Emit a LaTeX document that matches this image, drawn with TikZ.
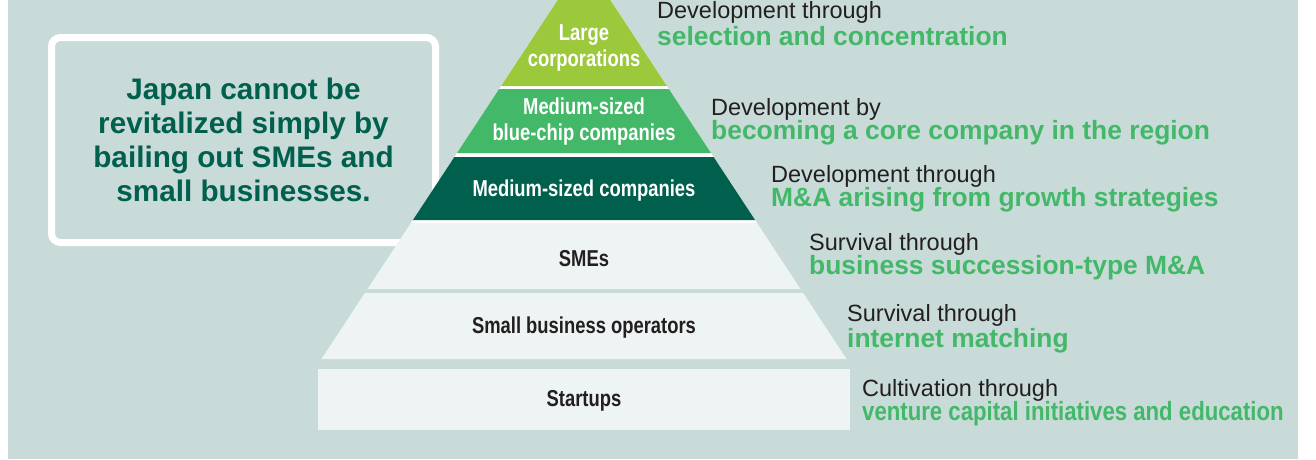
\documentclass[tikz,border=0pt]{standalone}
\usepackage{fontspec}
\setmainfont{Liberation Sans}
\newfontfamily\condfont[FakeStretch=0.8]{Liberation Sans}
\newfontfamily\narrowfont[FakeStretch=0.84]{Liberation Sans}
\usetikzlibrary{positioning}

\definecolor{bgteal}{HTML}{C8DBD9}
\definecolor{lime}{HTML}{9CC93C}
\definecolor{leafgreen}{HTML}{43B868}
\definecolor{pinegreen}{HTML}{00604D}
\definecolor{pale}{HTML}{EEF3F3}
\definecolor{inkdark}{HTML}{231F20}

\tikzset{%
  tier/.style = {font=\condfont\bfseries\fontsize{23}{26}\selectfont, align=center, inner sep=0pt},
  tierlight/.style = {tier, text=white},
  tierdark/.style = {tier, text=inkdark},
  how/.style = {anchor=base west, inner sep=0pt, text=inkdark, font=\fontsize{23.5}{26}\selectfont},
  what/.style = {anchor=base west, inner sep=0pt, text=leafgreen, font=\bfseries\fontsize{26.4}{30}\selectfont},
  whatnarrow/.style = {what, font=\narrowfont\bfseries\fontsize{26.4}{30}\selectfont},
  message/.style = {draw=white, line width=7pt, rounded corners=9pt, minimum width=384pt, minimum height=205pt,
    align=center, text=pinegreen, font=\bfseries\fontsize{29.7}{33.9}\selectfont}
}

% one band of the pyramid: top y, bottom y, fill
\newcommand{\pyrband}[3]{%
  \pgfmathsetmacro{\bandtop}{0.658*(#1+40)}%
  \pgfmathsetmacro{\bandbot}{0.658*(#2+40)}%
  \fill[#3] ({584-\bandtop},#1) -- ({584+\bandtop},#1) -- ({584+\bandbot},#2) -- ({584-\bandbot},#2) -- cycle;}

\begin{document}
\begin{tikzpicture}[x=1pt, y=-1pt]
  \useasboundingbox (0,0) rectangle (1316,459);
  \fill[white] (0,0) rectangle (1316,459);
  \fill[bgteal] (8,0) rectangle (1298,459);

  \node[message] at (243.5,140) (msg) {Japan cannot be\\revitalized simply by\\bailing out SMEs and\\small businesses.};

  % white seams under the three upper bands
  \pyrband{0}{223}{white}
  \pyrband{0}{86}{lime}
  \pyrband{89}{153}{leafgreen}
  \pyrband{157}{220}{pinegreen}
  \pyrband{223}{289}{pale}
  \pyrband{293}{359}{pale}
  \fill[pale] (318,369) rectangle (850,430);

  \node[tierlight] at (584,48) (large) {Large\\corporations};
  \node[tierlight] at (584,122) (bluechip) {Medium-sized\\blue-chip companies};
  \node[tierlight, anchor=base] at (584,196) (medium) {Medium-sized companies};
  \node[tierdark, anchor=base] at (584,266) (smes) {SMEs};
  \node[tierdark, anchor=base] at (584,333) (small) {Small business operators};
  \node[tierdark, anchor=base] at (584,406) (startups) {Startups};

  \node[how] at (657,18) (howlarge) {Development through};
  \node[what] at (657,45) (whatlarge) {selection and concentration};
  \node[how] at (711,115) (howbluechip) {Development by};
  \node[what] at (711,139) (whatbluechip) {becoming a core company in the region};
  \node[how] at (771,182) (howmedium) {Development through};
  \node[what] at (771,206) (whatmedium) {M\&A arising from growth strategies};
  \node[how] at (809,250) (howsmes) {Survival through};
  \node[what] at (809,274) (whatsmes) {business succession-type M\&A};
  \node[how] at (847,321) (howsmall) {Survival through};
  \node[what] at (847,347) (whatsmall) {internet matching};
  \node[how] at (862,396) (howstartups) {Cultivation through};
  \node[whatnarrow] at (862,420) (whatstartups) {venture capital initiatives and education};
\end{tikzpicture}
\end{document}
